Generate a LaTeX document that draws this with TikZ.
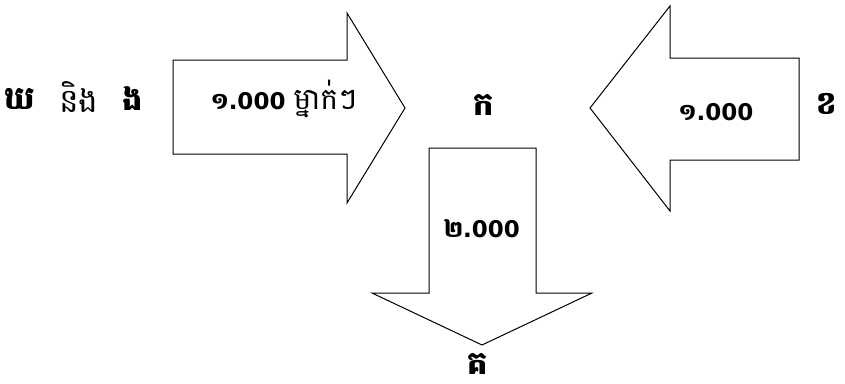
\documentclass[tikz,border=0pt]{standalone}
\usepackage{fontspec}
\setmainfont{DejaVu Sans}
\newfontfamily\km[Script=Khmer]{Battambang}
\begin{document}
\begin{tikzpicture}[x=1pt,y=-1pt,
  arrowshape/.style={draw=black, line width=1pt, line join=miter, fill=white},
  kmbold/.style={font=\km\bfseries\fontsize{32}{34}\selectfont, inner sep=0pt},
  kmreg/.style={font=\km\fontsize{33}{35}\selectfont, inner sep=0pt},
  numlbl/.style={font=\bfseries\fontsize{23}{25}\selectfont, inner sep=0pt}]
\useasboundingbox (0,0) rectangle (845,383);
% right-pointing arrow
\draw[arrowshape] (173,60) -- (347,60) -- (347,13) -- (405,108) -- (347,203) -- (347,154) -- (173,154) -- cycle;
% left-pointing arrow
\draw[arrowshape] (799,58) -- (670,58) -- (670,6) -- (590,108) -- (670,211) -- (670,160) -- (799,160) -- cycle;
% down arrow
\draw[arrowshape] (429,148) -- (536,148) -- (536,293) -- (592,293) -- (482,345) -- (372,293) -- (429,293) -- cycle;
% labels
\node[kmbold] (kho) at (20,99) {ឃ};
\node[kmreg] (and) at (79,97) {និង};
\node[kmbold] (ngo) at (133,99) {ង};
\node[numlbl] (n1) at (284,99) {{\km\bfseries ១}.000 {\km\mdseries\fontsize{30}{32}\selectfont ម្នាក់ៗ}};
\node[kmbold] (ka) at (484,105) {ក};
\node[numlbl] (n2) at (716,112) {{\km\bfseries ១}.000};
\node[kmbold] (kh) at (827,104) {ខ};
\node[numlbl] (n3) at (482,229) {{\km\bfseries ២}.000};
\node[kmbold, anchor=base, text depth=0pt, text height=16pt] (ko) at (478,374) {គ};
\end{tikzpicture}
\end{document}
